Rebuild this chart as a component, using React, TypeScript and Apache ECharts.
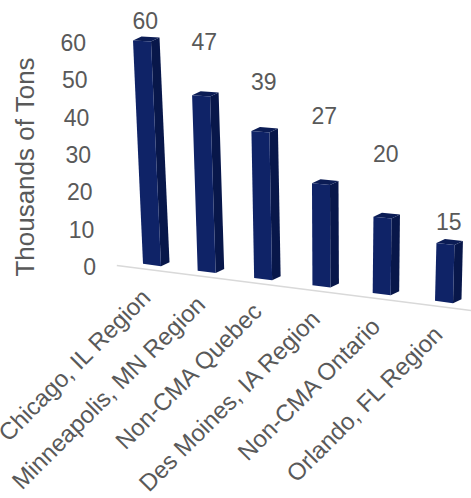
import { useEffect, useRef } from "react";
import * as echarts from "echarts";

// Tonnage by region, thousands of tons
const categories = [
  "Chicago, IL Region",
  "Minneapolis, MN Region",
  "Non-CMA Quebec",
  "Des Moines, IA Region",
  "Non-CMA Ontario",
  "Orlando, FL Region",
];
const tonnage = [60, 47, 39, 27, 20, 15];
const yTicks = [0, 10, 20, 30, 40, 50, 60];

// How far each value label floats above its column (px)
const labelLift = [16, 50, 46, 64, 60, 18];

const Y_MAX = 60;
const Y_STEP = 10;
const FONT = "'Liberation Sans', Arial, sans-serif";
const TEXT = "#595959";
const FRONT = "#0F2367";
const SIDE = "#08174A";
const TOP = "#0B1C55";

// Perspective of the front plane: where the first and last column
// centres land at the axis minimum and maximum.
const PLANE_QUAD = [
  [152, 265],
  [444, 302],
  [142, 41],
  [450, 60],
];
const HALF_WIDTH = 9; // half of a column's front face
const DEPTH = [8.5, -4]; // column depth as seen on screen
const TICK_LEAN = 10; // tick labels drift left as they rise
const CAT_LABEL_OFFSET = [-6, 28]; // category label anchor below each column

function solveHomography(src: number[][], dst: number[][]): number[] {
  const A: number[][] = [];
  const b: number[] = [];
  for (let k = 0; k < 4; k++) {
    const [x, y] = src[k];
    const [X, Y] = dst[k];
    A.push([x, y, 1, 0, 0, 0, -x * X, -y * X]);
    b.push(X);
    A.push([0, 0, 0, x, y, 1, -x * Y, -y * Y]);
    b.push(Y);
  }
  const n = 8;
  for (let c = 0; c < n; c++) {
    let p = c;
    for (let r = c + 1; r < n; r++) if (Math.abs(A[r][c]) > Math.abs(A[p][c])) p = r;
    [A[c], A[p]] = [A[p], A[c]];
    [b[c], b[p]] = [b[p], b[c]];
    for (let r = 0; r < n; r++) {
      if (r === c) continue;
      const f = A[r][c] / A[c][c];
      for (let k = c; k < n; k++) A[r][k] -= f * A[c][k];
      b[r] -= f * b[c];
    }
  }
  return b.map((v, i) => v / A[i][i]);
}

function project(h: number[], p: number[]): number[] {
  const w = h[6] * p[0] + h[7] * p[1] + 1;
  return [(h[0] * p[0] + h[1] * p[1] + h[2]) / w, (h[3] * p[0] + h[4] * p[1] + h[5]) / w];
}

function planeHomography(api: any): number[] {
  const last = categories.length - 1;
  return solveHomography(
    [api.coord([0, 0]), api.coord([last, 0]), api.coord([0, Y_MAX]), api.coord([last, Y_MAX])],
    PLANE_QUAD
  );
}

const shift = (p: number[], d: number[], k = 1) => [p[0] + d[0] * k, p[1] + d[1] * k];

function renderColumn(_params: any, api: any) {
  const i = api.value(0) as number;
  const v = api.value(1) as number;
  const H = planeHomography(api);

  const flatBase = api.coord([i, 0]);
  const flatTop = api.coord([i, v]);
  const cb = project(H, flatBase);
  const ct = project(H, flatTop);
  const slopeAt = (f: number[]) => {
    const a = project(H, [f[0] - 5, f[1]]);
    const b = project(H, [f[0] + 5, f[1]]);
    return (b[1] - a[1]) / (b[0] - a[0]);
  };
  const sb = slopeAt(flatBase);
  const st = slopeAt(flatTop);

  const FLB = [cb[0] - HALF_WIDTH, cb[1] - HALF_WIDTH * sb];
  const FRB = [cb[0] + HALF_WIDTH, cb[1] + HALF_WIDTH * sb];
  const FLT = [ct[0] - HALF_WIDTH, ct[1] - HALF_WIDTH * st];
  const FRT = [ct[0] + HALF_WIDTH, ct[1] + HALF_WIDTH * st];

  return {
    type: "group",
    children: [
      {
        type: "polygon",
        shape: { points: [FRB, FRT, shift(FRT, DEPTH), shift(FRB, DEPTH)] },
        style: { fill: SIDE },
      },
      {
        type: "polygon",
        shape: { points: [FLT, FRT, shift(FRT, DEPTH), shift(FLT, DEPTH)] },
        style: { fill: TOP },
      },
      {
        type: "polygon",
        shape: { points: [FLB, FRB, FRT, FLT] },
        style: { fill: FRONT },
      },
      {
        type: "text",
        x: ct[0] + DEPTH[0] / 2 - 1,
        y: ct[1] + DEPTH[1] - labelLift[i],
        style: {
          text: String(v),
          fill: TEXT,
          fontSize: 23,
          fontFamily: FONT,
          align: "center",
          textAlign: "center",
          verticalAlign: "middle",
          textVerticalAlign: "middle",
        },
      },
      {
        type: "text",
        x: cb[0] + CAT_LABEL_OFFSET[0],
        y: cb[1] + CAT_LABEL_OFFSET[1],
        rotation: Math.PI / 4,
        style: {
          text: categories[i],
          fill: TEXT,
          fontSize: 24,
          fontFamily: FONT,
          align: "right",
          textAlign: "right",
          verticalAlign: "middle",
          textVerticalAlign: "middle",
        },
      },
    ],
  };
}

function renderFloor(params: any, api: any) {
  const H = planeHomography(api);
  const cs = params.coordSys;
  const y0 = api.coord([0, 0])[1];
  const a = shift(project(H, [cs.x, y0]), DEPTH, -1);
  const b = shift(project(H, [cs.x + cs.width + 10, y0]), DEPTH, -1);
  return {
    type: "line",
    shape: { x1: a[0], y1: a[1], x2: b[0], y2: b[1] },
    style: { stroke: "#D9D9D9", lineWidth: 1.5 },
  };
}

const tickRich: Record<string, any> = {};
yTicks.forEach((t) => {
  tickRich[`t${t}`] = {
    fontSize: 23,
    fontFamily: FONT,
    color: TEXT,
    padding: [0, (t / Y_MAX) * TICK_LEAN, 0, 0],
  };
});

export default function App() {
  const ref = useRef<HTMLDivElement>(null);

  useEffect(() => {
    if (!ref.current) return;
    const chart = echarts.init(ref.current, undefined, { renderer: "svg" });
    chart.setOption({
      animation: false,
      grid: { left: 120, right: 0, top: 43, bottom: 231, containLabel: false },
      xAxis: {
        type: "category",
        data: categories,
        axisLine: { show: false },
        axisTick: { show: false },
        axisLabel: { show: false },
      },
      yAxis: {
        type: "value",
        min: 0,
        max: Y_MAX,
        interval: Y_STEP,
        splitLine: { show: false },
        axisLine: { show: false },
        axisTick: { show: false },
        axisLabel: {
          margin: 24,
          fontSize: 23,
          fontFamily: FONT,
          color: TEXT,
          formatter: (val: number) => `{t${val}|${val}}`,
          rich: tickRich,
        },
        name: "Thousands of Tons",
        nameLocation: "middle",
        nameGap: 82,
        nameTextStyle: {
          fontSize: 26,
          fontFamily: FONT,
          color: TEXT,
          padding: [0, 24, 0, 0],
        },
      },
      series: [
        {
          type: "custom",
          renderItem: renderFloor,
          data: [[0, 0]],
          clip: false,
          silent: true,
        },
        {
          type: "custom",
          renderItem: renderColumn,
          data: tonnage.map((v, i) => [i, v]),
          clip: false,
        },
      ],
    });
    return () => chart.dispose();
  }, []);

  return (
    <div
      ref={ref}
      style={{ position: "absolute", left: 0, top: 0, width: 471, height: 498 }}
    />
  );
}
